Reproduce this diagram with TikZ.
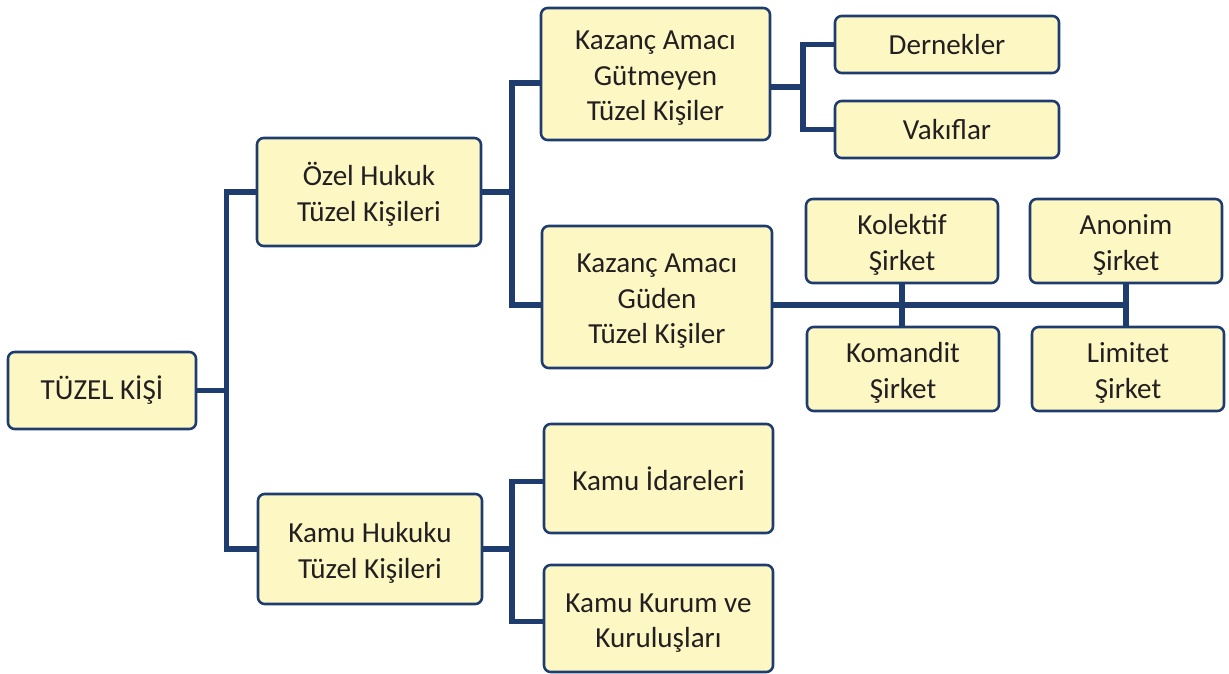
\documentclass[tikz,border=0pt]{standalone}
\usepackage{fontspec}
\setmainfont{Carlito}
\definecolor{boxfill}{HTML}{FDF7C4}
\definecolor{navy}{HTML}{1E3D6E}
\definecolor{ink}{HTML}{231F20}
% stacked lines, set a little below the box centre
\newcommand{\stacklines}[1]{\raisebox{-3.2pt}[\height][\depth]{\begin{tabular}{@{}c@{}}#1\end{tabular}}}
\begin{document}
\begin{tikzpicture}[x=0.75pt,y=-0.75pt,
  box/.style={draw=navy,line width=1.9pt,fill=boxfill,rounded corners=5pt,
    align=center,text=ink,inner sep=0pt,
    font=\fontsize{21.8}{26.6}\selectfont},
  link/.style={draw=navy,line width=3.8pt}]
\useasboundingbox (0,0) rectangle (1229,674);

% boxes: centre, then width and height
\node[box,minimum width=141pt,minimum height=57.75pt] (root) at (102,390.5) {TÜZEL KİŞİ};
\node[box,minimum width=168pt,minimum height=81pt]   (ozel) at (369,192) {\stacklines{Özel Hukuk\\Tüzel Kişileri}};
\node[box,minimum width=168pt,minimum height=82.5pt] (kamu) at (370,549) {\stacklines{Kamu Hukuku\\Tüzel Kişileri}};
\node[box,minimum width=171.75pt,minimum height=99pt]  (gut) at (655.5,74) {\stacklines{Kazanç Amacı\\Gütmeyen\\Tüzel Kişiler}};
\node[box,minimum width=172.5pt,minimum height=106.5pt] (gud) at (657,297) {\stacklines{Kazanç Amacı\\Güden\\Tüzel Kişiler}};
\node[box,minimum width=168pt,minimum height=42.75pt] (der) at (947,44.5) {Dernekler};
\node[box,minimum width=168pt,minimum height=42.75pt] (vak) at (947,129.5) {Vakıflar};
\node[box,minimum width=144pt,minimum height=63pt] (kol) at (902,241) {\stacklines{Kolektif\\Şirket}};
\node[box,minimum width=144pt,minimum height=63pt] (ano) at (1126,241) {\stacklines{Anonim\\Şirket}};
\node[box,minimum width=144pt,minimum height=63pt] (kom) at (903,369) {\stacklines{Komandit\\Şirket}};
\node[box,minimum width=144pt,minimum height=63pt] (lim) at (1128,369) {\stacklines{Limitet\\Şirket}};
\node[box,minimum width=171.75pt,minimum height=81.75pt] (ida) at (658.5,478.5) {Kamu İdareleri};
\node[box,minimum width=171.75pt,minimum height=80.25pt] (kur) at (658.5,618.5) {\stacklines{Kamu Kurum ve\\Kuruluşları}};

% trunk positions of the vertical bars
\coordinate (t1) at (226.5,0);
\coordinate (t2) at (512,0);
\coordinate (t3) at (803,0);

% connectors
\path[link] (root.east) -- (root.east -| t1);
\path[link] (ozel.west) -- (ozel.west -| t1) -- (kamu.west -| t1) -- (kamu.west);

\coordinate (gutin) at ([yshift=-6.75pt]gut.west);
\coordinate (gudin) at ([yshift=-6pt]gud.west);
\path[link] (ozel.east) -- (ozel.east -| t2);
\path[link] (gutin) -- (gutin -| t2) -- (gudin -| t2) -- (gudin);

\coordinate (gutout) at ([yshift=-9.75pt]gut.east);
\path[link] (gutout) -- (gutout -| t3);
\path[link] (der.west) -- (der.west -| t3) -- (vak.west -| t3) -- (vak.west);

\coordinate (gudout) at ([yshift=-6pt]gud.east);
\path[link] (gudout) -- (gudout -| ano.south);
\path[link] (kol.south) -- (kol.south |- kom.north);
\path[link] (ano.south) -- (ano.south |- lim.north);

\coordinate (idain) at ([yshift=-2pt]ida.west);
\coordinate (kurin) at ([yshift=-2.5pt]kur.west);
\path[link] (kamu.east) -- (kamu.east -| t2);
\path[link] (idain) -- (idain -| t2) -- (kurin -| t2) -- (kurin);
\end{tikzpicture}
\end{document}
